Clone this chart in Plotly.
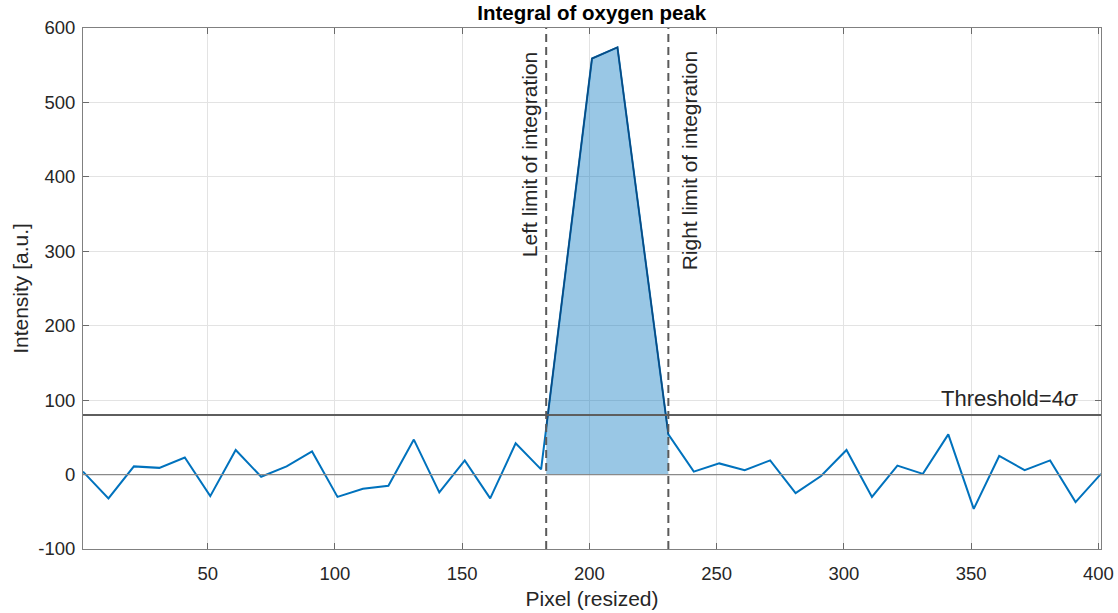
import numpy as np
import plotly.graph_objects as go

# Resized pixel positions and measured intensities
pixel = [1, 11, 21, 31, 41, 51, 61, 71, 81, 91,
         101, 111, 121, 131, 141, 151, 161, 171, 181, 191,
         201, 211, 221, 231, 241, 251, 261, 271, 281, 291,
         301, 311, 321, 331, 341, 351, 361, 371, 381, 391, 401]
intensity = [4, -32, 11, 9, 23, -29, 33, -3, 11, 31,
             -30, -19, -15, 47, -24, 19, -32, 42, 7, 285,
             559, 574, 312, 54, 4, 15, 6, 19, -25, -2,
             33, -30, 12, 1, 54, -46, 25, 6, 19, -37, 1]

threshold = 80          # 4 sigma
left_limit = 183
right_limit = 231

x_ticks = [50, 100, 150, 200, 250, 300, 350, 400]
y_ticks = [-100, 0, 100, 200, 300, 400, 500, 600]
y_tick_labels = ["-100", "0", "100", "200", "300", "400", "500", "600"]

FONT = "Liberation Sans, Arial, Helvetica, sans-serif"
TXT = "#262626"

px_arr = np.array(pixel, dtype=float)
int_arr = np.array(intensity, dtype=float)

# integration region: from left limit to right limit, following the curve
inside = (px_arr > left_limit) & (px_arr < right_limit)
fill_x = np.concatenate([[left_limit], px_arr[inside], [right_limit]])
fill_y = np.interp(fill_x, px_arr, int_arr)

fig = go.Figure()

fig.add_trace(go.Scatter(
    x=pixel, y=intensity, mode="lines",
    line=dict(color="#0072BD", width=2),
    showlegend=False, hoverinfo="skip"))

fig.add_trace(go.Scatter(
    x=fill_x, y=fill_y, mode="lines", fill="tozeroy",
    fillcolor="rgba(0,114,189,0.4)",
    line=dict(color="#0B4A80", width=1.5),
    showlegend=False, hoverinfo="skip"))

# zero line and threshold line
fig.add_shape(type="line", xref="paper", x0=0, x1=1, yref="y", y0=0, y1=0,
              line=dict(color="#8a8a8a", width=1.3), layer="above")
fig.add_shape(type="line", xref="paper", x0=0, x1=1, yref="y",
              y0=threshold, y1=threshold,
              line=dict(color="#5e5e5e", width=2), layer="above")

# integration limits
for xl in (left_limit, right_limit):
    fig.add_shape(type="line", x0=xl, x1=xl, yref="paper", y0=0, y1=1,
                  line=dict(color="#5a5a5a", width=2, dash="8px,5px"),
                  layer="above")

fig.add_annotation(x=left_limit, y=600, yshift=-22, xshift=-3,
                   text="Left limit of integration", textangle=-90,
                   xanchor="right", yanchor="top", showarrow=False,
                   font=dict(family=FONT, size=21, color=TXT))
fig.add_annotation(x=right_limit, y=600, yshift=-21, xshift=8,
                   text="Right limit of integration", textangle=-90,
                   xanchor="left", yanchor="top", showarrow=False,
                   font=dict(family=FONT, size=21, color=TXT))
fig.add_annotation(x=1, xref="paper", xshift=-21, y=threshold, yshift=2,
                   text="Threshold=4<i>σ</i>",
                   xanchor="right", yanchor="bottom", showarrow=False,
                   font=dict(family=FONT, size=22, color=TXT))

axis_common = dict(
    showgrid=True, gridcolor="#e3e3e3", gridwidth=1,
    showline=True, linecolor="#808080", linewidth=1, mirror="ticks",
    ticks="inside", ticklen=6, tickcolor="#6a6a6a", tickwidth=1,
    zeroline=False, automargin=False,
    tickfont=dict(family=FONT, size=18.5, color=TXT),
)

fig.update_xaxes(range=[1, 401], tickvals=x_ticks, ticklabelstandoff=8,
                 title=dict(text="Pixel (resized)", standoff=8,
                            font=dict(family=FONT, size=21, color=TXT)),
                 **axis_common)
fig.update_yaxes(range=[-100, 600], tickvals=y_ticks, ticktext=y_tick_labels,
                 ticklabelstandoff=3,
                 title=dict(text="Intensity [a.u.]", standoff=3,
                            font=dict(family=FONT, size=21, color=TXT)),
                 **axis_common)

fig.update_layout(
    width=1118, height=613,
    margin=dict(l=83, r=17, t=28, b=64),
    paper_bgcolor="white", plot_bgcolor="white",
    title=dict(text="<b>Integral of oxygen peak</b>", x=0.5293, xanchor="center",
               y=0.979, yanchor="middle",
               font=dict(family=FONT, size=20.5, color="#000000")),
)

fig.write_html("out.html")
